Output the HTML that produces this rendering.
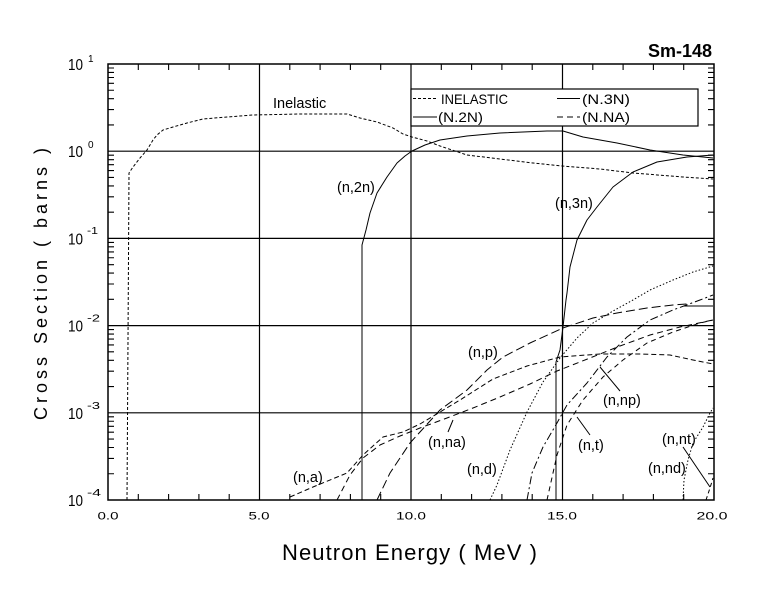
<!DOCTYPE html>
<html>
<head>
<meta charset="utf-8">
<style>
html,body{margin:0;padding:0;background:#fff;}
svg{display:block;}
text{font-family:"Liberation Sans",Arial,sans-serif;fill:#000;}
</style>
</head>
<body>
<svg width="780" height="590" viewBox="0 0 780 590" xmlns="http://www.w3.org/2000/svg">
<rect x="0" y="0" width="780" height="590" fill="#fff"/>

<!-- grid -->
<g stroke="#000" stroke-width="1.2" fill="none">
  <path d="M108 151.2H714M108 238.4H714M108 325.6H714M108 412.8H714"/>
  <path d="M259.5 64V500M411 64V500M562.5 64V500"/>
</g>

<!-- frame -->
<rect x="108" y="64" width="606" height="436" fill="none" stroke="#000" stroke-width="1.5"/>

<!-- x minor ticks -->
<g stroke="#000" stroke-width="1.1" fill="none">
<path d="M138.3 500v-6M168.6 500v-6M198.9 500v-6M229.2 500v-6M289.8 500v-6M320.1 500v-6M350.4 500v-6M380.7 500v-6M441.3 500v-6M471.6 500v-6M501.9 500v-6M532.2 500v-6M592.8 500v-6M623.1 500v-6M653.4 500v-6M683.7 500v-6"/>
<path d="M138.3 64v6M168.6 64v6M198.9 64v6M229.2 64v6M289.8 64v6M320.1 64v6M350.4 64v6M380.7 64v6M441.3 64v6M471.6 64v6M501.9 64v6M532.2 64v6M592.8 64v6M623.1 64v6M653.4 64v6M683.7 64v6"/>
<!-- y minor ticks left -->
<path d="M108 124.95h6M108 109.6h6M108 98.7h6M108 90.25h6M108 83.35h6M108 77.5h6M108 72.45h6M108 68h6
M108 212.15h6M108 196.8h6M108 185.9h6M108 177.45h6M108 170.55h6M108 164.7h6M108 159.65h6M108 155.2h6
M108 299.35h6M108 284h6M108 273.1h6M108 264.65h6M108 257.75h6M108 251.9h6M108 246.85h6M108 242.4h6
M108 386.55h6M108 371.2h6M108 360.3h6M108 351.85h6M108 344.95h6M108 339.1h6M108 334.05h6M108 329.6h6
M108 473.75h6M108 458.4h6M108 447.5h6M108 439.05h6M108 432.15h6M108 426.3h6M108 421.25h6M108 416.8h6"/>
<!-- y minor ticks right -->
<path d="M714 124.95h-6M714 109.6h-6M714 98.7h-6M714 90.25h-6M714 83.35h-6M714 77.5h-6M714 72.45h-6M714 68h-6
M714 212.15h-6M714 196.8h-6M714 185.9h-6M714 177.45h-6M714 170.55h-6M714 164.7h-6M714 159.65h-6M714 155.2h-6
M714 299.35h-6M714 284h-6M714 273.1h-6M714 264.65h-6M714 257.75h-6M714 251.9h-6M714 246.85h-6M714 242.4h-6
M714 386.55h-6M714 371.2h-6M714 360.3h-6M714 351.85h-6M714 344.95h-6M714 339.1h-6M714 334.05h-6M714 329.6h-6
M714 473.75h-6M714 458.4h-6M714 447.5h-6M714 439.05h-6M714 432.15h-6M714 426.3h-6M714 421.25h-6M714 416.8h-6"/>
</g>

<!-- curves -->
<g fill="none" stroke="#000" stroke-width="1" stroke-linejoin="round">
  <!-- Inelastic -->
  <polyline stroke-dasharray="3,2" points="127,500 128,340 129,173 133,167 140,158 147,150 153,140 157,135 163,130 173,127 187,123 203,119 227,117 253,115 300,114 347,114 360,118 377,122 393,128 403,134 412,137 427,141 440,146 467,155 500,159 533,163 562,166 600,169 633,173 683,177 713,179"/>
  <!-- (n,2n) -->
  <polyline points="362,500 362,245 366,230 370,213 377,193 387,177 397,163 405,156 412,151 425,145 440,140 467,136 500,133 547,131 563,131 583,137 617,143 650,150 683,155 713,158"/>
  <!-- (n,3n) -->
  <polyline points="556,500 556,362 560,350 563,327 566,300 567,293 570,267 577,240 587,220 597,207 613,187 633,172 657,162 687,157 713,155"/>
  <!-- (n,a) -->
  <polyline stroke-dasharray="5,3" points="290,497 313,487 347,473 363,455 383,437 403,432 420,424 440,412 460,400 493,379 527,366 560,357 600,354 640,354 670,355 693,360 713,364"/>
  <!-- (n,na) -->
  <polyline stroke-dasharray="6,4" points="337,500 350,475 363,458 380,445 400,436 420,428 447,418 473,408 500,397 530,384 557,371 590,358 620,346 650,335 680,327 713,320"/>
  <!-- (n,p) -->
  <polyline stroke-dasharray="9,4" points="377,500 390,473 410,443 440,410 467,390 487,370 503,357 530,343 563,328 593,318 617,313 647,308 673,305 687,304"/>
  <polyline points="684,306 713,306"/>
  <!-- (n,d) -->
  <polyline stroke-dasharray="1.5,2" points="490,500 497,485 510,450 527,412 543,382 560,358 577,338 593,323 613,311 633,300 650,290 673,280 693,272 713,266"/>
  <!-- (n,np) -->
  <polyline stroke-dasharray="8,3,2,3" points="527,500 532,473 543,447 557,423 567,405 587,383 607,357 627,337 650,320 673,310 700,300 713,295"/>
  <!-- (n,t) -->
  <polyline stroke-dasharray="5,4" points="547,500 557,455 567,425 583,400 603,377 623,360 647,343 673,332 700,323 713,320"/>
  <!-- (n,nd) -->
  <polyline stroke-dasharray="1.5,2" points="683,500 684,480 688,460 693,443 703,427 710,413 713,408"/>
  <!-- (n,nt) -->
  <polyline stroke-dasharray="4,3" points="706,500 710,488 713,478"/>
  <!-- pointers -->
  <path d="M600 367L620 391M577 417L590 435M453 420L448 432M683 447L710 487"/>
</g>

<!-- legend -->
<rect x="411" y="89" width="287" height="37" fill="#fff" stroke="#000" stroke-width="1.2"/>
<g fill="none" stroke="#000" stroke-width="1">
  <line x1="413" y1="98.5" x2="438" y2="98.5" stroke-dasharray="3,2"/>
  <line x1="557" y1="98.5" x2="580" y2="98.5"/>
  <line x1="413" y1="117" x2="437" y2="117"/>
  <line x1="557" y1="117" x2="580" y2="117" stroke-dasharray="6,4"/>
</g>
<g font-size="14">
  <text x="441" y="104" textLength="67" lengthAdjust="spacingAndGlyphs">INELASTIC</text>
  <text x="582" y="104" textLength="48" lengthAdjust="spacingAndGlyphs">(N.3N)</text>
  <text x="438" y="122" textLength="45" lengthAdjust="spacingAndGlyphs">(N.2N)</text>
  <text x="582" y="122" textLength="48" lengthAdjust="spacingAndGlyphs">(N.NA)</text>
</g>

<!-- title -->
<text x="712" y="57" font-size="18" font-weight="bold" text-anchor="end">Sm-148</text>

<!-- curve labels -->
<g font-size="14.5">
  <text x="273" y="108">Inelastic</text>
  <text x="337" y="192">(n,2n)</text>
  <text x="555" y="208">(n,3n)</text>
  <text x="468" y="357">(n,p)</text>
  <text x="603" y="405">(n,np)</text>
  <text x="578" y="450">(n,t)</text>
  <text x="428" y="447">(n,na)</text>
  <text x="293" y="482">(n,a)</text>
  <text x="467" y="474">(n,d)</text>
  <text x="662" y="444">(n,nt)</text>
  <text x="648" y="473">(n,nd)</text>
</g>

<!-- y tick labels -->
<g font-size="16">
  <text x="68" y="70" textLength="15" lengthAdjust="spacingAndGlyphs">10</text>
  <text x="68" y="157" textLength="15" lengthAdjust="spacingAndGlyphs">10</text>
  <text x="68" y="244.5" textLength="15" lengthAdjust="spacingAndGlyphs">10</text>
  <text x="68" y="331.5" textLength="15" lengthAdjust="spacingAndGlyphs">10</text>
  <text x="68" y="419" textLength="15" lengthAdjust="spacingAndGlyphs">10</text>
  <text x="68" y="506" textLength="15" lengthAdjust="spacingAndGlyphs">10</text>
</g>
<g font-size="10">
  <text x="88" y="62">1</text>
  <text x="88" y="148">0</text>
  <text x="87" y="234" textLength="11" lengthAdjust="spacingAndGlyphs">-1</text>
  <text x="87" y="321.5" textLength="13" lengthAdjust="spacingAndGlyphs">-2</text>
  <text x="87" y="409" textLength="13" lengthAdjust="spacingAndGlyphs">-3</text>
  <text x="87" y="496" textLength="14" lengthAdjust="spacingAndGlyphs">-4</text>
</g>

<!-- x tick labels -->
<g font-size="11" text-anchor="middle">
  <text x="108" y="519.5" textLength="21" lengthAdjust="spacingAndGlyphs">0.0</text>
  <text x="259" y="519.5" textLength="21" lengthAdjust="spacingAndGlyphs">5.0</text>
  <text x="411" y="519.5" textLength="30" lengthAdjust="spacingAndGlyphs">10.0</text>
  <text x="562" y="519.5" textLength="30" lengthAdjust="spacingAndGlyphs">15.0</text>
  <text x="712" y="519.5" textLength="31" lengthAdjust="spacingAndGlyphs">20.0</text>
</g>

<!-- axis titles -->
<text x="282" y="560" font-size="22" textLength="255" lengthAdjust="spacing">Neutron Energy ( MeV )</text>
<text transform="translate(47,284) rotate(-90)" font-size="18" text-anchor="middle" textLength="272" lengthAdjust="spacing">Cross Section ( barns )</text>
</svg>
</body>
</html>
